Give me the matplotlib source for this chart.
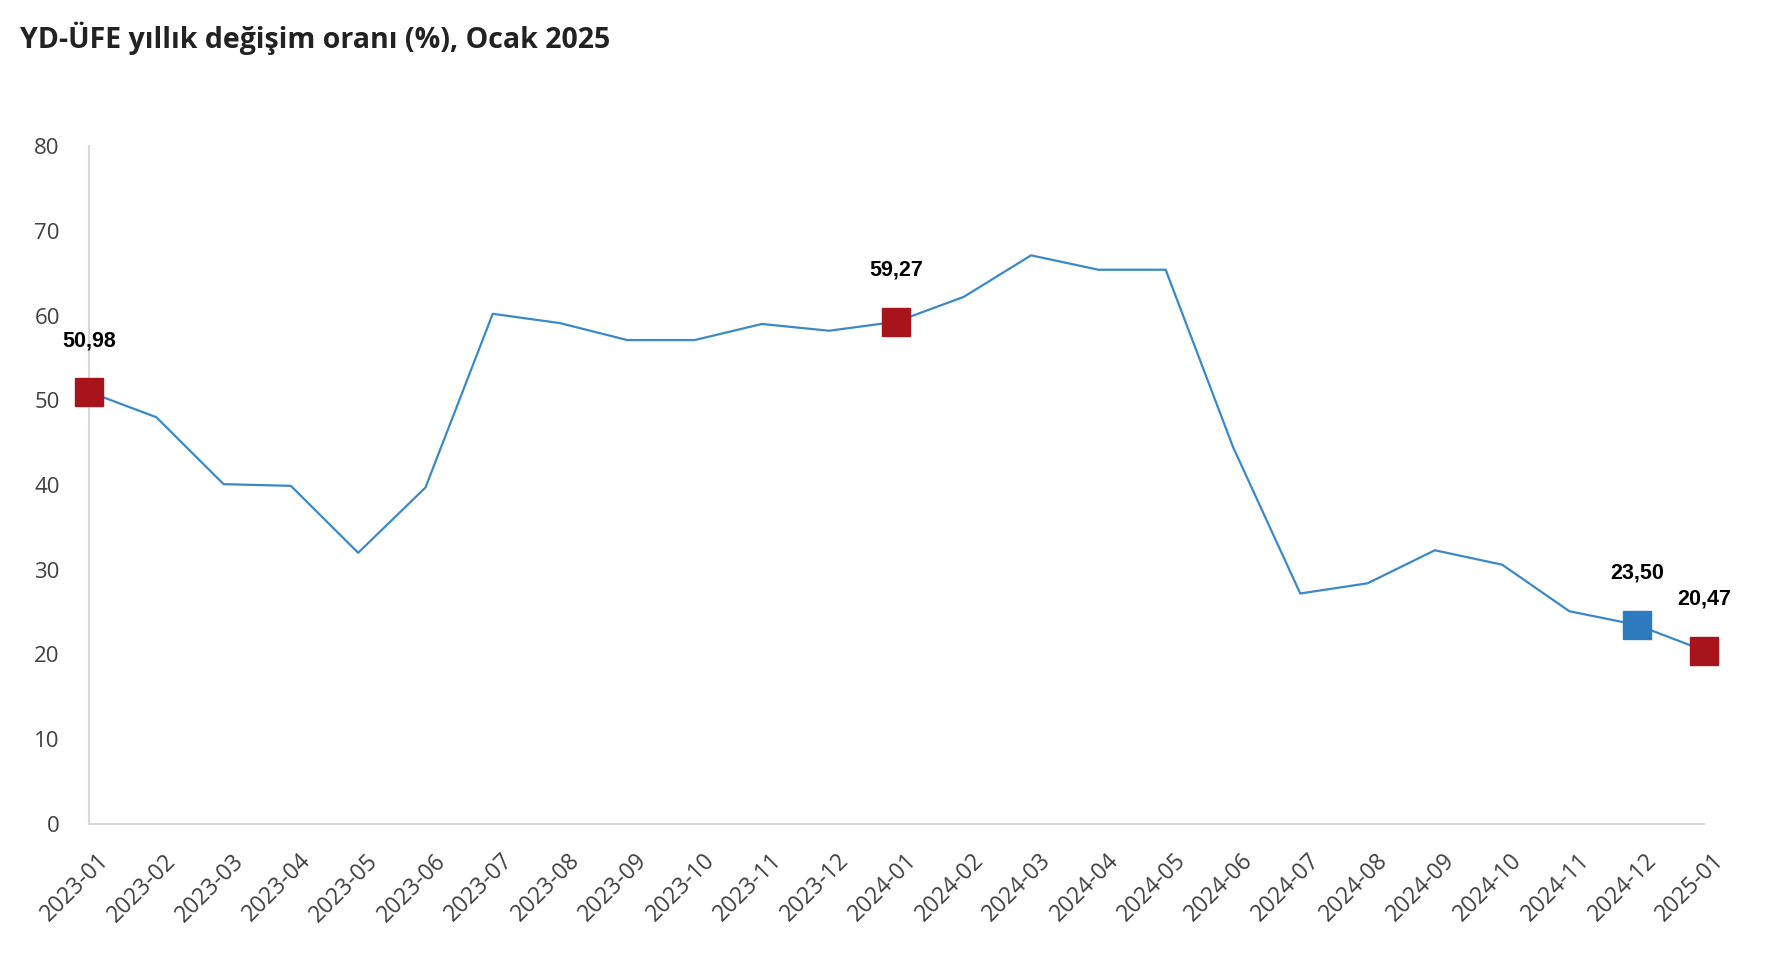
import matplotlib
matplotlib.use("Agg")
import matplotlib.pyplot as plt
import matplotlib.transforms as mtransforms

months = ["2023-01", "2023-02", "2023-03", "2023-04", "2023-05", "2023-06",
          "2023-07", "2023-08", "2023-09", "2023-10", "2023-11", "2023-12",
          "2024-01", "2024-02", "2024-03", "2024-04", "2024-05", "2024-06",
          "2024-07", "2024-08", "2024-09", "2024-10", "2024-11", "2024-12",
          "2025-01"]
values = [50.98, 48.0, 40.1, 39.9, 32.0, 39.7,
          60.2, 59.1, 57.1, 57.1, 59.0, 58.2,
          59.27, 62.2, 67.1, 65.4, 65.4, 44.5,
          27.2, 28.4, 32.3, 30.6, 25.1, 23.50,
          20.47]
red_idx = [0, 12, 24]
blue_idx = [23]
yticks = [0, 10, 20, 30, 40, 50, 60, 70, 80]

LINE = "#3A89C9"
RED = "#A8141C"
BLUE = "#2E7BBF"
TICK = "#404040"

fig = plt.figure(figsize=(17.66, 9.8), dpi=100)
ax = fig.add_axes([89/1766, 1-824/980, (1704-89)/1766, (824-146)/980])

x = list(range(len(months)))
ax.plot(x, values, color=LINE, lw=1.6, zorder=2)

for i in red_idx + blue_idx:
    c = RED if i in red_idx else BLUE
    ax.plot([x[i]], [values[i]], marker="s", ms=20, color=c, mec=c, zorder=3,
            clip_on=False)
    ax.annotate(f"{values[i]:.2f}".replace(".", ","), (x[i], values[i]),
                xytext=(0, 37), textcoords="offset points",
                ha="center", va="center", fontsize=15.5, fontweight="bold",
                family="Liberation Sans", color="black", annotation_clip=False)

ax.set_xlim(0, len(months) - 1)
ax.set_ylim(0, 80)
ax.set_yticks(yticks)
ax.set_yticklabels([str(v) for v in yticks], fontsize=16, color=TICK, family="Open Sans")
ax.set_xticks(x)
ax.set_xticklabels([])
lab_trans = ax.get_xaxis_transform() + mtransforms.ScaledTranslation(
    8/100, -25/100, fig.dpi_scale_trans)
for xi, m in zip(x, months):
    ax.text(xi, 0, m, transform=lab_trans, rotation=45, ha="right", va="top",
            rotation_mode="anchor", fontsize=16.5, color=TICK, family="Open Sans",
            clip_on=False)
ax.tick_params(axis="both", length=0)
ax.tick_params(axis="y", pad=21)

for s in ["top", "right"]:
    ax.spines[s].set_visible(False)
for s in ["left", "bottom"]:
    ax.spines[s].set_color("#D9D9D9")
    ax.spines[s].set_linewidth(1.5)

fig.text(20/1766, 1-38/980, "YD-ÜFE yıllık değişim oranı (%), Ocak 2025",
         fontsize=20.5, fontweight="bold", family="Open Sans", color="#222222",
         ha="left", va="center")

fig.savefig("out.png", dpi=100)
